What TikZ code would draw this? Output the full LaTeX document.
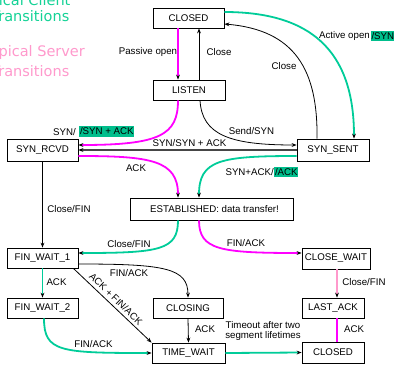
\documentclass[tikz,border=0pt]{standalone}
\usepackage{fontspec}
\setmainfont{Liberation Sans}
\newfontfamily\titlefont{DejaVu Sans}
\usetikzlibrary{arrows.meta}
\definecolor{cgreen}{RGB}{0,204,153}
\definecolor{hlgreen}{RGB}{0,190,140}
\definecolor{cmag}{RGB}{255,0,255}
\definecolor{cpink}{RGB}{255,153,204}
\definecolor{tgreen}{RGB}{20,210,150}
\definecolor{cgray}{RGB}{70,70,70}
\begin{document}
\begin{tikzpicture}[x=1pt,y=-1pt,
  state/.style={draw=black, line width=0.8pt, inner sep=0pt, font=\fontsize{9.7}{11}\selectfont},
  lbl/.style={inner sep=0pt, font=\fontsize{9.7}{11}\selectfont},
  hl/.style={lbl, fill=hlgreen, inner xsep=0.8pt, inner ysep=1.5pt},
  ttl/.style={inner sep=0pt, anchor=base west, font=\titlefont\fontsize{14.5}{17}\selectfont},
  tip/.style={-{Stealth[length=5pt,width=3.8pt,color=black]}},
  gline/.style={draw=cgreen, line width=1.8pt},
  mline/.style={draw=cmag, line width=1.8pt},
  pline/.style={draw=cpink, line width=1.8pt},
  bline/.style={draw=black, line width=0.8pt},
]
\useasboundingbox (0,0) rectangle (394,365);
\clip (0,0) rectangle (394,365);

% titles
\node[ttl, text=tgreen] (t1) at (-25.7,5) {Typical Client};
\node[ttl, text=tgreen] (t2) at (-8.6,21) {Transitions};
\node[ttl, text=cpink] (t3) at (-16.8,56) {Typical Server};
\node[ttl, text=cpink] (t4) at (-8.6,76) {Transitions};

% states
\node[state, minimum width=71pt, minimum height=20pt] (closedtop) at (188.5,18) {CLOSED};
\node[state, minimum width=72pt, minimum height=20pt] (listen) at (189,90) {LISTEN};
\node[state, minimum width=71pt, minimum height=22pt] (synrcvd) at (42.5,150) {SYN\_RCVD};
\node[state, minimum width=72pt, minimum height=22pt] (synsent) at (333,150) {SYN\_SENT};
\node[state, minimum width=163pt, minimum height=22pt] (established) at (211.5,209) {\hspace*{6pt}ESTABLISHED: data transfer!};
\node[state, minimum width=71pt, minimum height=20pt] (finwait1) at (42.5,258) {FIN\_WAIT\_1};
\node[state, minimum width=71pt, minimum height=20pt] (finwait2) at (42.5,308) {FIN\_WAIT\_2};
\node[state, minimum width=70pt, minimum height=20pt] (closing) at (188,308) {CLOSING};
\node[state, minimum width=73pt, minimum height=20pt] (timewait) at (188.5,353) {TIME\_WAIT};
\node[state, minimum width=68pt, minimum height=21pt] (closewait) at (336,258.5) {CLOSE\_WAIT};
\node[state, minimum width=62pt, minimum height=20pt] (lastack) at (333,308) {LAST\_ACK};
\node[state, minimum width=62pt, minimum height=21pt] (closedbot) at (333,352.5) {CLOSED};

% connectors
\draw[mline, tip] ([xshift=-10.5pt]closedtop.south) -- ([xshift=-11pt]listen.north);
\draw[bline, tip] ([xshift=10pt]listen.north) -- ([xshift=10.5pt]closedtop.south);
\draw[gline, tip] ([yshift=6pt]closedtop.east) .. controls (310,12) and (354,50) .. ([xshift=21pt]synsent.north);
\draw[bline, tip] ([xshift=-16pt]synsent.north) .. controls (318,70) and (295,30) .. ([yshift=-6pt]closedtop.east);
\draw[bline, tip] ([xshift=11pt]listen.south) .. controls (202,135) and (230,145) .. ([yshift=5pt]synsent.west);
\draw[mline, tip] ([xshift=-11pt]listen.south) .. controls (178,135) and (160,145) .. ([yshift=5pt]synrcvd.east);
\draw[draw=cgray, line width=1.3pt, tip] (synsent.west) -- (synrcvd.east);
\draw[mline, tip] ([yshift=-6pt]synrcvd.east) .. controls (150,156) and (178,160) .. ([xshift=-33.5pt]established.north);
\draw[gline, tip] ([yshift=-6pt]synsent.west) .. controls (220,156) and (199,160) .. ([xshift=-12.5pt]established.north);
\draw[bline, tip] (synrcvd.south) -- (finwait1.north);
\draw[gline, tip] ([xshift=-33.5pt]established.south) .. controls (178,250) and (160,253) .. ([yshift=5pt]finwait1.east);
\draw[mline, tip] ([xshift=-12.5pt]established.south) .. controls (199,250) and (220,253) .. ([yshift=5.5pt]closewait.west);
\draw[gline, tip] (finwait1.south) -- (finwait2.north);
\draw[bline, tip] ([yshift=-6pt]finwait1.east) .. controls (165,264) and (188,268) .. (closing.north);
\draw[bline, tip] ([xshift=-5pt]finwait1.south east) -- (timewait.north west);
\draw[gline, tip] ([xshift=1.5pt]finwait2.south) .. controls (44,352) and (60,353) .. (timewait.west);
\draw[bline, tip] (closing.south) -- (timewait.north);
\draw[gline, tip] (timewait.east) -- (closedbot.west);
\draw[pline, tip] ([xshift=1pt]closewait.south) -- ([xshift=4pt]lastack.north);
\draw[mline] ([xshift=4pt]lastack.south) -- ([xshift=4pt]closedbot.north);

% labels
\node[lbl] (lpassive) at (148,52) {Passive open};
\node[lbl] (lclose1) at (219,52) {Close};
\node[lbl] (lclose2) at (284,66) {Close};
\node[lbl, anchor=east] (lactive) at (370,36) {Active open};
\node[hl, anchor=west] (lactivehl) at (370.5,36) {/SYN};
\node[lbl, anchor=east] (lsyn) at (76,132) {SYN/};
\node[hl, anchor=west] (lsynhl) at (79,131.5) {/SYN + ACK};
\node[lbl] (lsynsyn) at (189.5,143) {SYN/SYN + ACK};
\node[lbl] (lsend) at (251.5,131) {Send/SYN};
\node[lbl] (lack1) at (136,168) {ACK};
\node[lbl, anchor=east] (lsynack) at (274,172) {SYN+ACK/};
\node[hl, anchor=west] (lsynackhl) at (274,172) {/ACK};
\node[lbl] (lclosefin1) at (69,209) {Close/FIN};
\node[lbl] (lclosefin2) at (129,244) {Close/FIN};
\node[lbl] (lfinack1) at (246,243) {FIN/ACK};
\node[lbl] (lack2) at (56.5,282) {ACK};
\node[lbl] (lfinack2) at (129,273) {FIN/ACK};
\node[lbl, rotate=-44] (lackfin) at (116,299) {ACK + FIN/ACK};
\node[lbl] (lfinack3) at (93.5,344) {FIN/ACK};
\node[lbl] (lack3) at (205,329) {ACK};
\node[lbl, align=center, font=\fontsize{9.7}{10}\selectfont] (ltimeout) at (263,331) {Timeout after two\\segment lifetimes};
\node[lbl] (lclosefin3) at (364,282) {Close/FIN};
\node[lbl] (lack4) at (354,329) {ACK};
\end{tikzpicture}
\end{document}
